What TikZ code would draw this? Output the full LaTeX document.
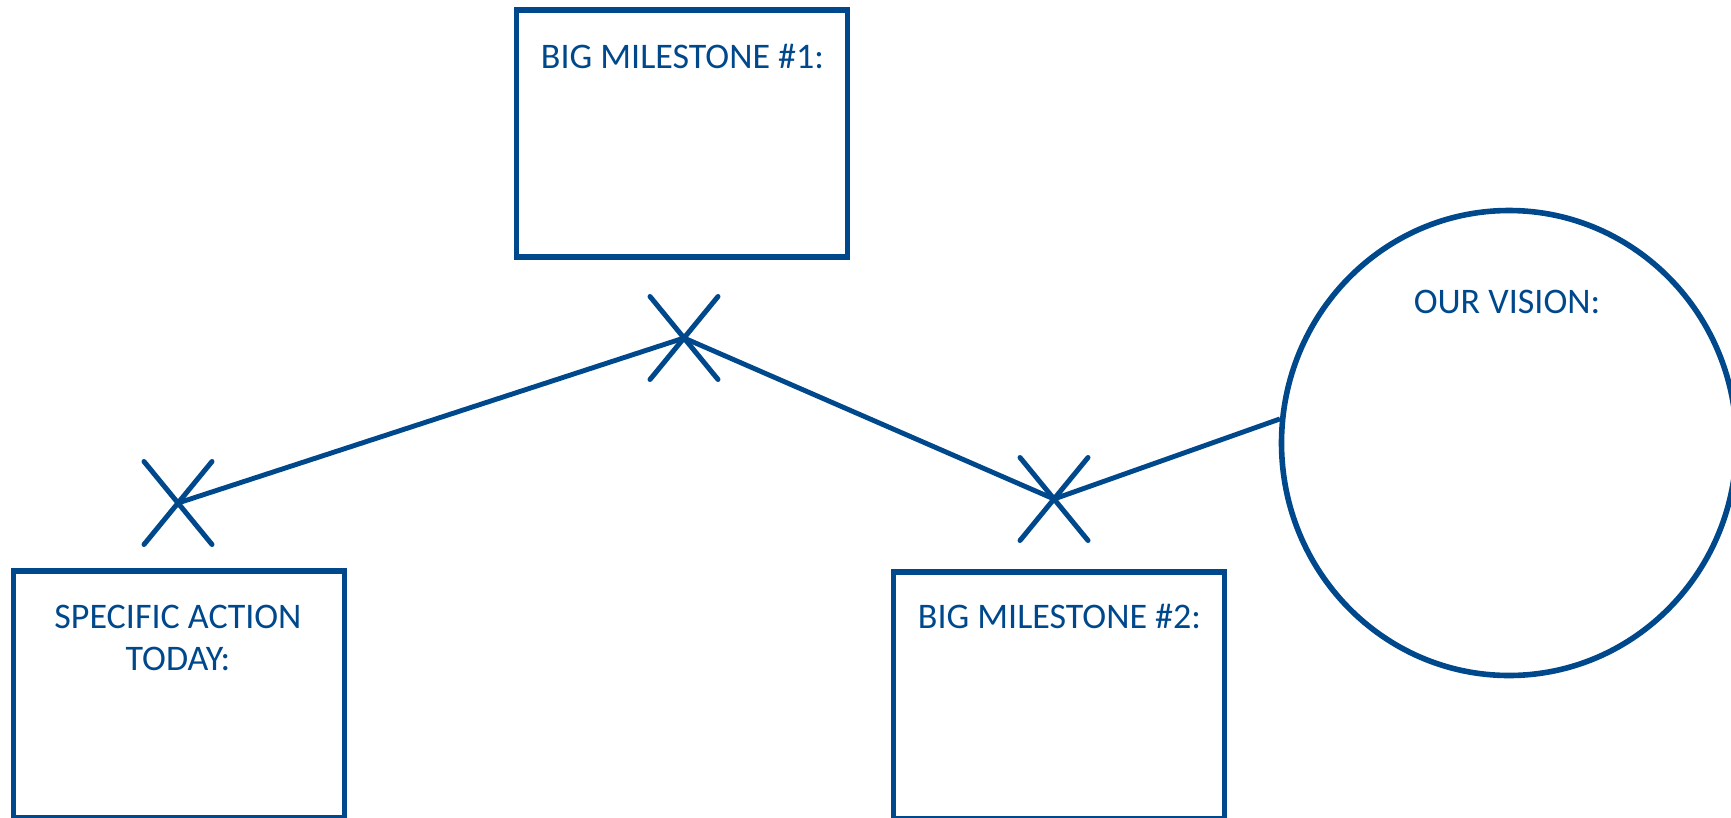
\documentclass[tikz,border=0pt]{standalone}
\usepackage{fontspec}
\setmainfont{Carlito}
\usetikzlibrary{shapes.geometric,shapes.misc}
\definecolor{navy}{RGB}{0,72,140}
\begin{document}
\begin{tikzpicture}[x=1pt,y=-1pt,
  box/.style={draw=navy, line width=5.3pt, minimum width=331pt, minimum height=247pt, inner sep=0pt},
  lbl/.style={text=navy, font=\fontsize{36}{42}\selectfont, anchor=base, inner sep=0pt},
  xmark/.style={cross out, draw=navy, line width=5pt, line cap=round, minimum width=63pt, minimum height=78pt, inner sep=0pt},
  link/.style={draw=navy, line width=4.9pt, line join=round}]
\useasboundingbox (0,0) rectangle (1731,817);
\clip (0,0) rectangle (1731,817);
\node[box] (m1) at (682,133.5) {};
\node[lbl] (m1t) at (682.5,68) {BIG MILESTONE \#1:};
\node[box] (act) at (179,694.5) {};
\node[lbl] (act1) at (178,628) {SPECIFIC ACTION};
\node[lbl] (act2) at (178,670) {TODAY:};
\node[box] (m2) at (1059,695.5) {};
\node[lbl] (m2t) at (1059.5,628) {BIG MILESTONE \#2:};
\node[ellipse, draw=navy, line width=5.6pt, minimum width=455pt, minimum height=465pt, inner sep=0pt] (vis) at (1509,443) {};
\node[lbl] (vist) at (1507,313) {OUR VISION:};
\node[xmark] (x0) at (178,503) {};
\node[xmark] (x1) at (684,338) {};
\node[xmark] (x2) at (1054,499) {};
\draw[link] (x0.center) -- (x1.center) -- (x2.center) -- (vis.174);
\end{tikzpicture}
\end{document}
